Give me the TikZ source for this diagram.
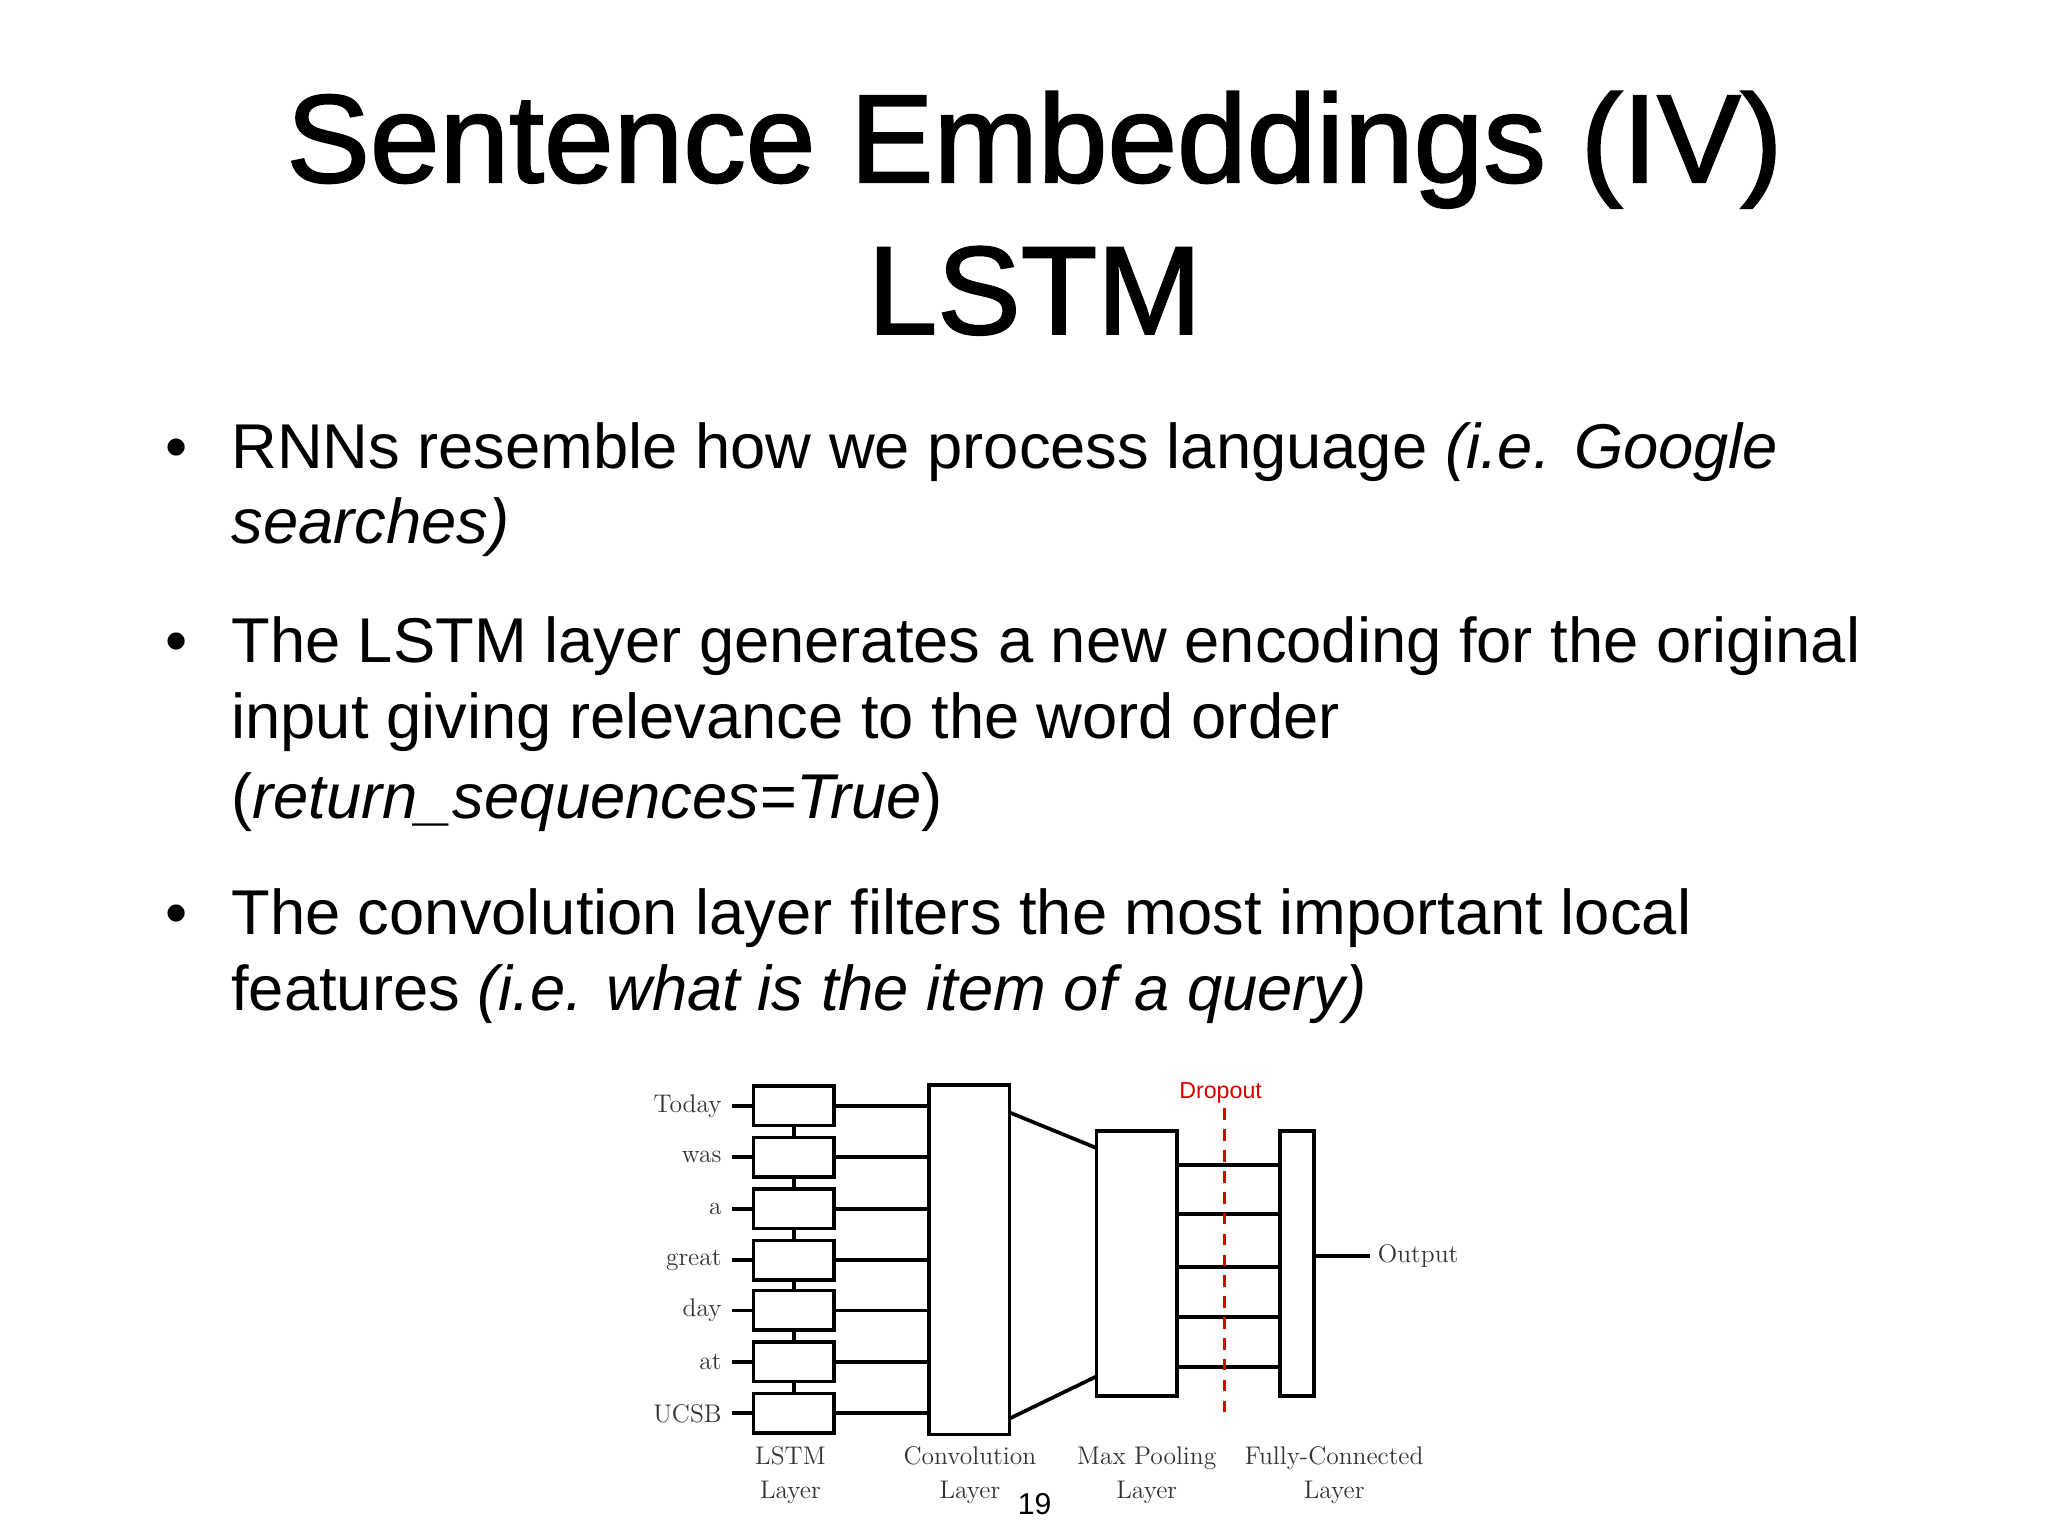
\documentclass[tikz,border=0pt]{standalone}
\usepackage{fontspec}
\setsansfont{Liberation Sans}
\newfontfamily\ttlfont[FakeBold=1.6]{Liberation Sans}
\begin{document}
\begin{tikzpicture}[x=0.02cm,y=-0.02cm,
  ln/.style={line width=1.6pt},
  bx/.style={draw,line width=1.6pt,minimum width=1.22cm,minimum height=0.6cm,inner sep=0},
  wd/.style={anchor=east,font=\fontsize{11}{12}\selectfont,text=black!80},
  lab/.style={align=center,font=\fontsize{11}{14.5}\selectfont,text=black!80},
  tt/.style={font=\ttlfont\fontsize{54}{60}\selectfont},
  bt/.style={anchor=base west,inner sep=0,font=\sffamily\fontsize{27.3}{30}\selectfont}]
\useasboundingbox (0,0) rectangle (1552,1164);
\node[tt,anchor=base] (t1) at (784,138) {Sentence Embeddings (IV)};
\node[tt,anchor=base] (t2) at (784,253) {LSTM};
\foreach \y in {355,502,708}{\node[anchor=base,font=\sffamily\fontsize{27.3}{30}\selectfont] at (134,\y) {•};}
\node[bt] (b1a) at (175,355) {RNNs resemble how we process language \textit{(i.e. Google}};
\node[bt] (b1b) at (175,412) {\textit{searches)}};
\node[bt] (b2a) at (175,502) {The LSTM layer generates a new encoding for the original};
\node[bt] (b2b) at (175,560) {input giving relevance to the word order};
\node[bt] (b2c) at (175,620) {(\textit{return\_sequences=True})};
\node[bt] (b3a) at (175,708) {The convolution layer filters the most important local};
\node[bt] (b3b) at (175,766) {features \textit{(i.e. what is the item of a query)}};
% diagram
\foreach \w/\y [count=\i] in {Today/838,was/877,a/916,great/955,day/993,at/1032,UCSB/1071}{
  \node[bx] (l\i) at (601.5,\y) {};
  \coordinate (w\i) at (555,\y);
  \node[wd] (wt\i) at (553,\y) {\w};
  \draw[ln] (w\i) -- (l\i.west);
}
\foreach \i/\j in {1/2,2/3,3/4,4/5,5/6,6/7}{\draw[ln] (l\i.south) -- (l\j.north);}
\node[draw,line width=1.6pt,minimum width=1.22cm,minimum height=5.3cm,inner sep=0] (conv) at (734.5,954.5) {};
\foreach \i in {1,...,7}{\draw[ln] (l\i.east) -- (l\i.east -| conv.west);}
\node[draw,line width=1.6pt,minimum width=1.22cm,minimum height=4.02cm,inner sep=0] (mp) at (861.5,957.5) {};
\node[draw,line width=1.6pt,minimum width=0.52cm,minimum height=4.02cm,inner sep=0] (fc) at (983,957.5) {};
\coordinate (c1) at (765,843); \coordinate (c2) at (831,870);
\coordinate (c3) at (765,1075); \coordinate (c4) at (831,1043);
\draw[ln] (c1) -- (c2); \draw[ln] (c3) -- (c4);
\foreach \y in {883,920,960,998,1036}{\draw[ln] (mp.east |- 0,\y) -- (fc.west |- 0,\y);}
\node[anchor=west,font=\fontsize{11}{12}\selectfont,text=black!80] (out) at (1038,952) {Output};
\draw[ln] (fc.east |- out.west) -- (out.west);
\node[text=red!85!black,font=\sffamily\fontsize{10}{12}\selectfont] (dr) at (925,828) {Dropout};
\coordinate (d1) at (928,840); \coordinate (d2) at (928,1076);
\draw[red!85!black,line width=1.2pt,dash pattern=on 5pt off 4pt] (d1) -- (d2);
\node[lab] (L1) at (599,1118) {LSTM\\Layer};
\node[lab] (L2) at (735,1118) {Convolution\\Layer};
\node[lab] (L3) at (869,1118) {Max Pooling\\Layer};
\node[lab] (L4) at (1011,1118) {Fully-Connected\\Layer};
\node[font=\sffamily\fontsize{13}{14}\selectfont] (pg) at (784,1140) {19};
\end{tikzpicture}
\end{document}
